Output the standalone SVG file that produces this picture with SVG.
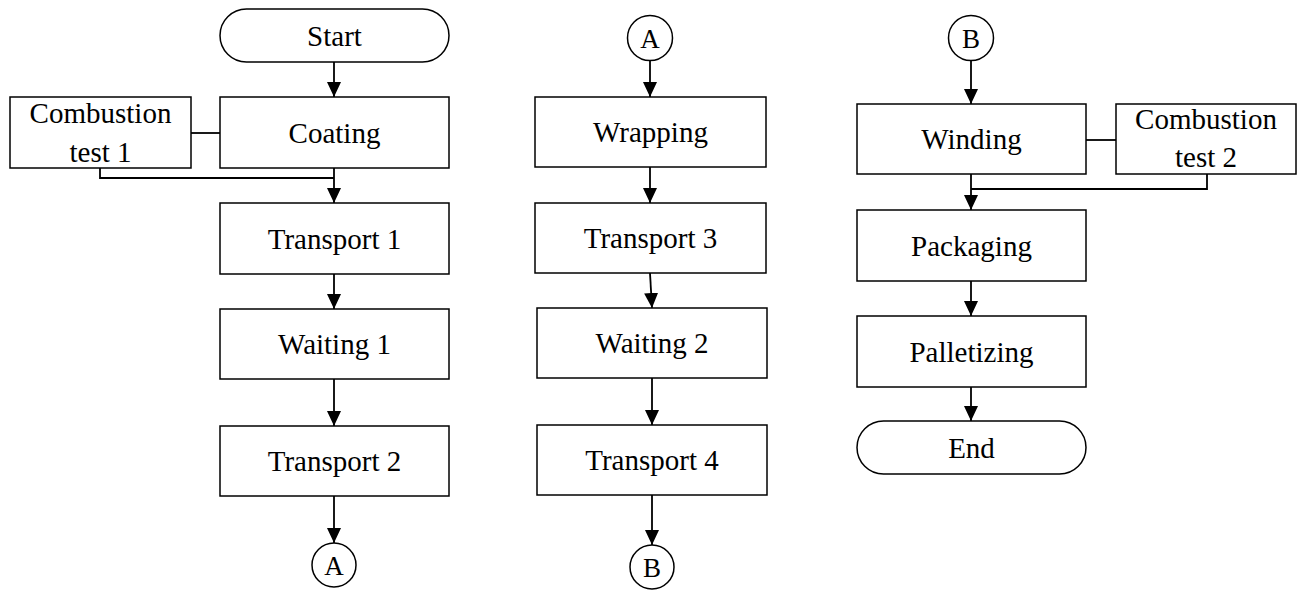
<svg xmlns="http://www.w3.org/2000/svg" width="1297" height="590" viewBox="0 0 1297 590">
<defs>
<style>
.box{fill:#fff;stroke:#000;stroke-width:1.5}
.ln{fill:none;stroke:#000;stroke-width:1.8}
text{fill:#000;text-anchor:middle}
.t{font-size:29px}
.c{font-size:27px}
</style>
<marker id="arr" markerUnits="userSpaceOnUse" markerWidth="16" markerHeight="14" refX="15" refY="7" orient="auto" viewBox="0 0 16 14">
<path d="M0,0 L15,7 L0,14 Z" fill="#000"/>
</marker>
</defs>
<rect width="1297" height="590" fill="#fff"/>

<g id="connectors">
<line class="ln" x1="334" y1="62" x2="334" y2="97" marker-end="url(#arr)"/>
<line class="ln" x1="334" y1="168" x2="334" y2="203" marker-end="url(#arr)"/>
<line class="ln" x1="191" y1="133" x2="220" y2="133"/>
<polyline class="ln" points="100,168 100,178 334,178"/>
<line class="ln" x1="334" y1="274" x2="334" y2="309" marker-end="url(#arr)"/>
<line class="ln" x1="334" y1="379" x2="334" y2="426" marker-end="url(#arr)"/>
<line class="ln" x1="334" y1="496" x2="334" y2="543" marker-end="url(#arr)"/>
<line class="ln" x1="650" y1="61" x2="650" y2="97" marker-end="url(#arr)"/>
<line class="ln" x1="650" y1="167" x2="650" y2="203" marker-end="url(#arr)"/>
<line class="ln" x1="650" y1="273" x2="652" y2="308" marker-end="url(#arr)"/>
<line class="ln" x1="652" y1="378" x2="652" y2="425" marker-end="url(#arr)"/>
<line class="ln" x1="652" y1="495" x2="652" y2="545" marker-end="url(#arr)"/>
<line class="ln" x1="971" y1="60" x2="971" y2="104" marker-end="url(#arr)"/>
<line class="ln" x1="971" y1="174" x2="971" y2="210" marker-end="url(#arr)"/>
<line class="ln" x1="1086" y1="140" x2="1116" y2="140"/>
<polyline class="ln" points="1207,174 1207,189 971,189"/>
<line class="ln" x1="971" y1="281" x2="971" y2="316" marker-end="url(#arr)"/>
<line class="ln" x1="971" y1="387" x2="971" y2="421" marker-end="url(#arr)"/>
</g>

<g font-family="'Liberation Serif', 'DejaVu Serif', serif">
<g id="start"><rect class="box" x="220" y="9" width="229" height="53" rx="26.5" ry="26.5"/><text class="t" x="334.5" y="46">Start</text></g>
<g id="coating"><rect class="box" x="220" y="97" width="229" height="71"/><text class="t" x="334.5" y="143">Coating</text></g>
<g id="combustion1"><rect class="box" x="10" y="97" width="181" height="71"/><text class="t" x="100.5" y="123">Combustion</text><text class="t" x="100.5" y="162">test 1</text></g>
<g id="transport1"><rect class="box" x="220" y="203" width="229" height="71"/><text class="t" x="334.5" y="249">Transport 1</text></g>
<g id="waiting1"><rect class="box" x="220" y="309" width="229" height="70"/><text class="t" x="334.5" y="354">Waiting 1</text></g>
<g id="transport2"><rect class="box" x="220" y="426" width="229" height="70"/><text class="t" x="334.5" y="471">Transport 2</text></g>
<g id="connA1"><circle class="box" cx="334" cy="565" r="22"/><text class="c" x="334" y="575">A</text></g>

<g id="connA2"><circle class="box" cx="650" cy="38" r="22.5"/><text class="c" x="650" y="48">A</text></g>
<g id="wrapping"><rect class="box" x="535" y="97" width="231" height="70"/><text class="t" x="650.5" y="142">Wrapping</text></g>
<g id="transport3"><rect class="box" x="535" y="203" width="231" height="70"/><text class="t" x="650.5" y="248">Transport 3</text></g>
<g id="waiting2"><rect class="box" x="537" y="308" width="230" height="70"/><text class="t" x="652" y="353">Waiting 2</text></g>
<g id="transport4"><rect class="box" x="537" y="425" width="230" height="70"/><text class="t" x="652" y="470">Transport 4</text></g>
<g id="connB1"><circle class="box" cx="652" cy="567" r="22"/><text class="c" x="652" y="577">B</text></g>

<g id="connB2"><circle class="box" cx="971" cy="38" r="22.5"/><text class="c" x="971" y="48">B</text></g>
<g id="winding"><rect class="box" x="857" y="104" width="229" height="70"/><text class="t" x="971.5" y="149">Winding</text></g>
<g id="combustion2"><rect class="box" x="1116" y="104" width="180" height="70"/><text class="t" x="1206" y="129">Combustion</text><text class="t" x="1206" y="167">test 2</text></g>
<g id="packaging"><rect class="box" x="857" y="210" width="229" height="71"/><text class="t" x="971.5" y="256">Packaging</text></g>
<g id="palletizing"><rect class="box" x="857" y="316" width="229" height="71"/><text class="t" x="971.5" y="362">Palletizing</text></g>
<g id="end"><rect class="box" x="857" y="421" width="229" height="53" rx="26.5" ry="26.5"/><text class="t" x="971.5" y="458">End</text></g>
</g>
</svg>
